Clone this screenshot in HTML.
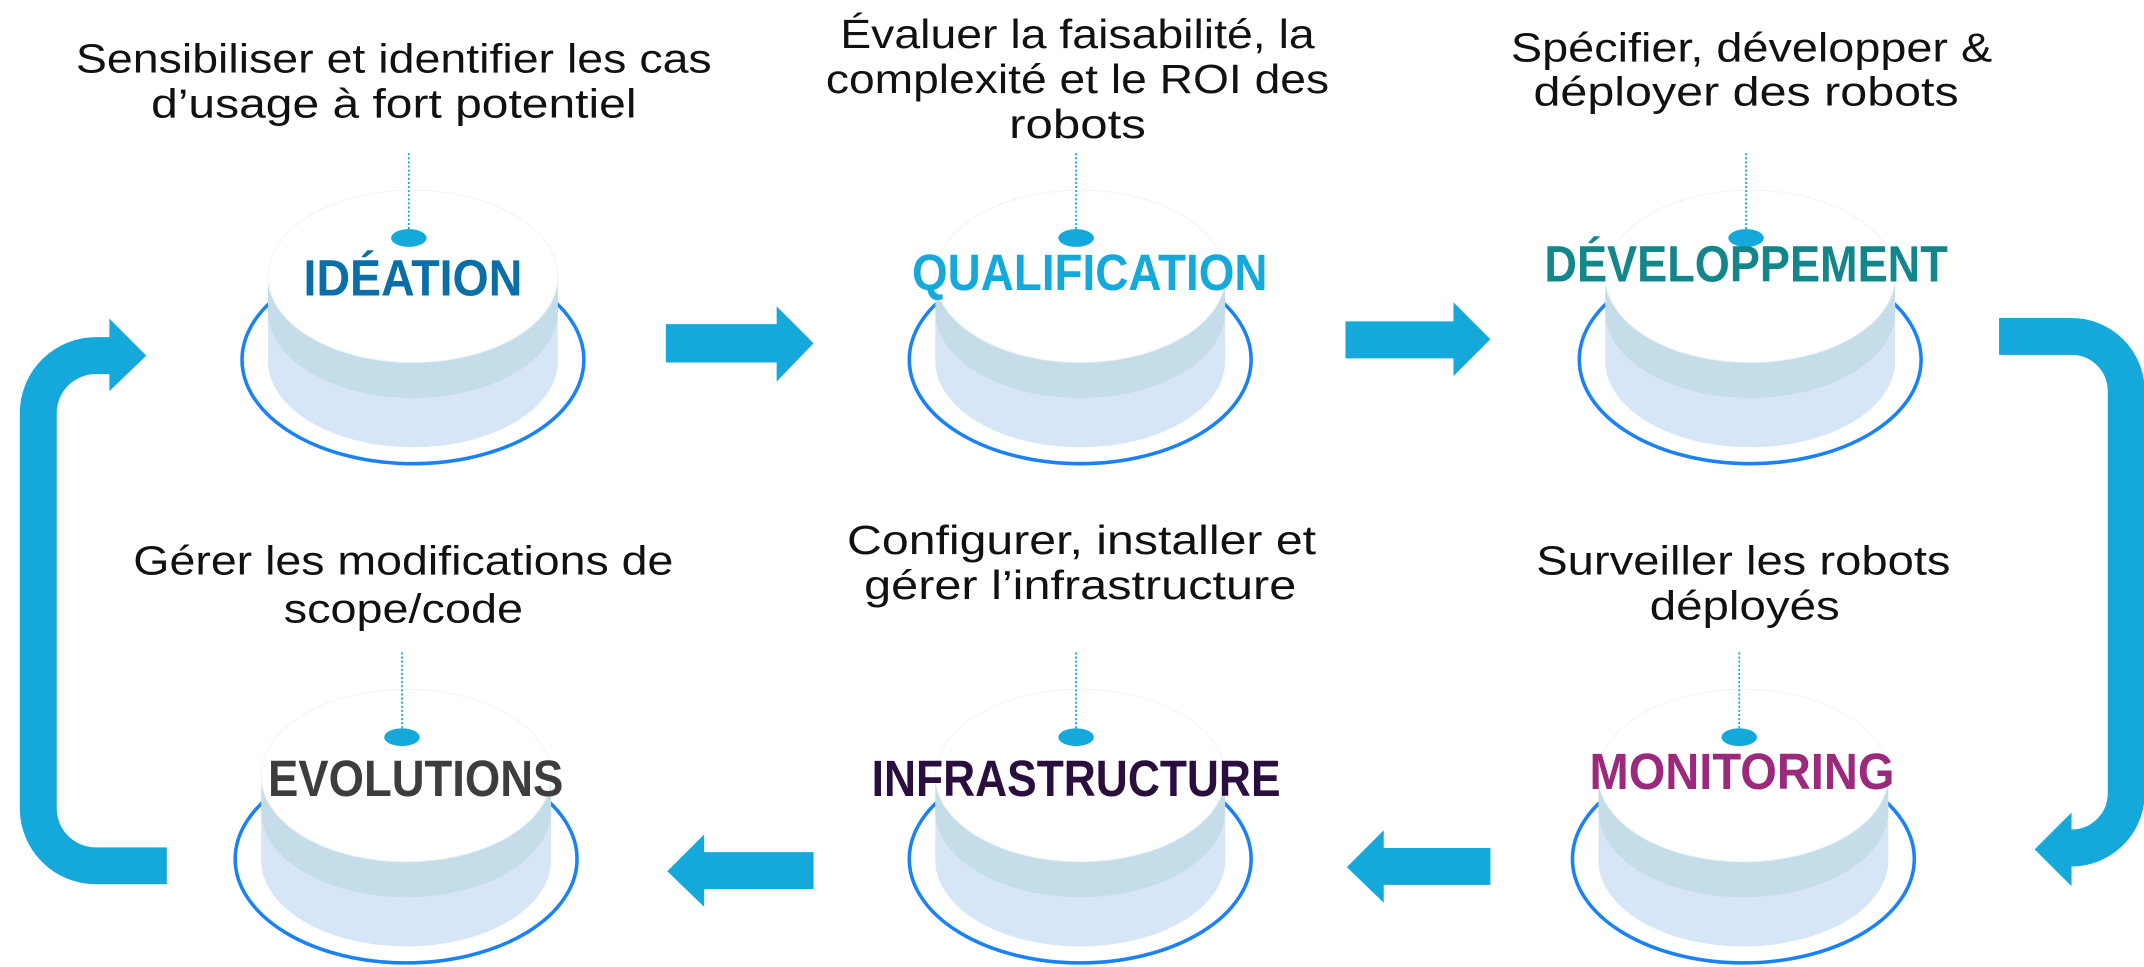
<!DOCTYPE html>
<html><head><meta charset="utf-8"><style>
html,body{margin:0;padding:0;background:#fff;}
svg{display:block;}
.t{font-family:"Liberation Sans",sans-serif;font-size:30px;fill:#111;text-anchor:middle;}
.l{font-family:"Liberation Sans",sans-serif;font-size:37px;font-weight:bold;text-anchor:middle;}
</style></head><body>
<svg width="2144" height="967" viewBox="0 0 1568 707" preserveAspectRatio="none" xmlns="http://www.w3.org/2000/svg">
<defs>
<g id="cyl">
  <ellipse cx="0" cy="263" rx="125" ry="76" fill="none" stroke="#1a82f5" stroke-width="2.6"/>
  <ellipse cx="0" cy="264" rx="106" ry="63" fill="#d6e6f6"/>
  <rect x="-106" y="228" width="212" height="36" fill="#d6e6f6"/>
  <ellipse cx="0" cy="228" rx="106" ry="63" fill="#c5dde9"/>
  <rect x="-106" y="202" width="212" height="26" fill="#c5dde9"/>
  <ellipse cx="0" cy="202" rx="106" ry="63" fill="#fff" stroke="#f0f4f7" stroke-width="0.8"/>
  <line x1="-3" y1="112" x2="-3" y2="168" stroke="#15a9db" stroke-width="1.3" stroke-dasharray="1.5 1.5"/>
  <ellipse cx="-3" cy="174" rx="13" ry="6.5" fill="#15a9db"/>
</g>
</defs>

<!-- cylinders -->
<use href="#cyl" transform="translate(302,0)"/>
<use href="#cyl" transform="translate(790,0)"/>
<use href="#cyl" transform="translate(1280,0)"/>
<use href="#cyl" transform="translate(297,365)"/>
<use href="#cyl" transform="translate(790,365)"/>
<use href="#cyl" transform="translate(1275,365)"/>

<!-- labels -->
<text class="l" x="302" y="216" fill="#0a6fa8" textLength="160" lengthAdjust="spacingAndGlyphs">IDÉATION</text>
<text class="l" x="797" y="212" fill="#15a9db" textLength="260" lengthAdjust="spacingAndGlyphs">QUALIFICATION</text>
<text class="l" x="1277" y="206" fill="#12868a" textLength="295" lengthAdjust="spacingAndGlyphs">DÉVELOPPEMENT</text>
<text class="l" x="304" y="582" fill="#3d3d3d" textLength="216" lengthAdjust="spacingAndGlyphs">EVOLUTIONS</text>
<text class="l" x="787" y="582" fill="#2a0f3e" textLength="299" lengthAdjust="spacingAndGlyphs">INFRASTRUCTURE</text>
<text class="l" x="1274" y="577" fill="#9c2a7c" textLength="223" lengthAdjust="spacingAndGlyphs">MONITORING</text>

<!-- descriptions -->
<text class="t" x="288" y="53" textLength="465" lengthAdjust="spacingAndGlyphs">Sensibiliser et identifier les cas</text>
<text class="t" x="288" y="86" textLength="355" lengthAdjust="spacingAndGlyphs">d’usage à fort potentiel</text>

<text class="t" x="788" y="35" textLength="347" lengthAdjust="spacingAndGlyphs">Évaluer la faisabilité, la</text>
<text class="t" x="788" y="68" textLength="368" lengthAdjust="spacingAndGlyphs">complexité et le ROI des</text>
<text class="t" x="788" y="101" textLength="100" lengthAdjust="spacingAndGlyphs">robots</text>

<text class="t" x="1281" y="45" textLength="352" lengthAdjust="spacingAndGlyphs">Spécifier, développer &amp;</text>
<text class="t" x="1277" y="77" textLength="311" lengthAdjust="spacingAndGlyphs">déployer des robots</text>

<text class="t" x="295" y="420" textLength="395" lengthAdjust="spacingAndGlyphs">Gérer les modifications de</text>
<text class="t" x="295" y="455" textLength="175" lengthAdjust="spacingAndGlyphs">scope/code</text>

<text class="t" x="791" y="405" textLength="343" lengthAdjust="spacingAndGlyphs">Configurer, installer et</text>
<text class="t" x="790" y="438" textLength="316" lengthAdjust="spacingAndGlyphs">gérer l’infrastructure</text>

<text class="t" x="1275" y="420" textLength="303" lengthAdjust="spacingAndGlyphs">Surveiller les robots</text>
<text class="t" x="1276" y="453" textLength="139" lengthAdjust="spacingAndGlyphs">déployés</text>

<!-- straight arrows -->
<g fill="#15a9db">
  <polygon points="487,237 568,237 568,224 595,251 568,279 568,265 487,265"/>
  <polygon points="984,235 1063,235 1063,221 1090,248 1063,275 1063,262 984,262"/>
  <polygon points="595,623 515,623 515,610 488,637 515,663 515,650 595,650"/>
  <polygon points="1090,620 1012,620 1012,607 985,634 1012,660 1012,647 1090,647"/>
  <!-- arrow heads of loops -->
  <polygon points="80,233 107,260 80,286"/>
  <polygon points="1515,594 1488,621 1515,648"/>
</g>
<!-- loop arrows -->
<path d="M122,633 H70 A42,42 0 0 1 28,591 V302 A42,42 0 0 1 70,260 H82" fill="none" stroke="#15a9db" stroke-width="27"/>
<path d="M1462,246 H1515 A40,40 0 0 1 1555,286 V580 A40,40 0 0 1 1515,620 H1512" fill="none" stroke="#15a9db" stroke-width="27"/>
</svg>
</body></html>
